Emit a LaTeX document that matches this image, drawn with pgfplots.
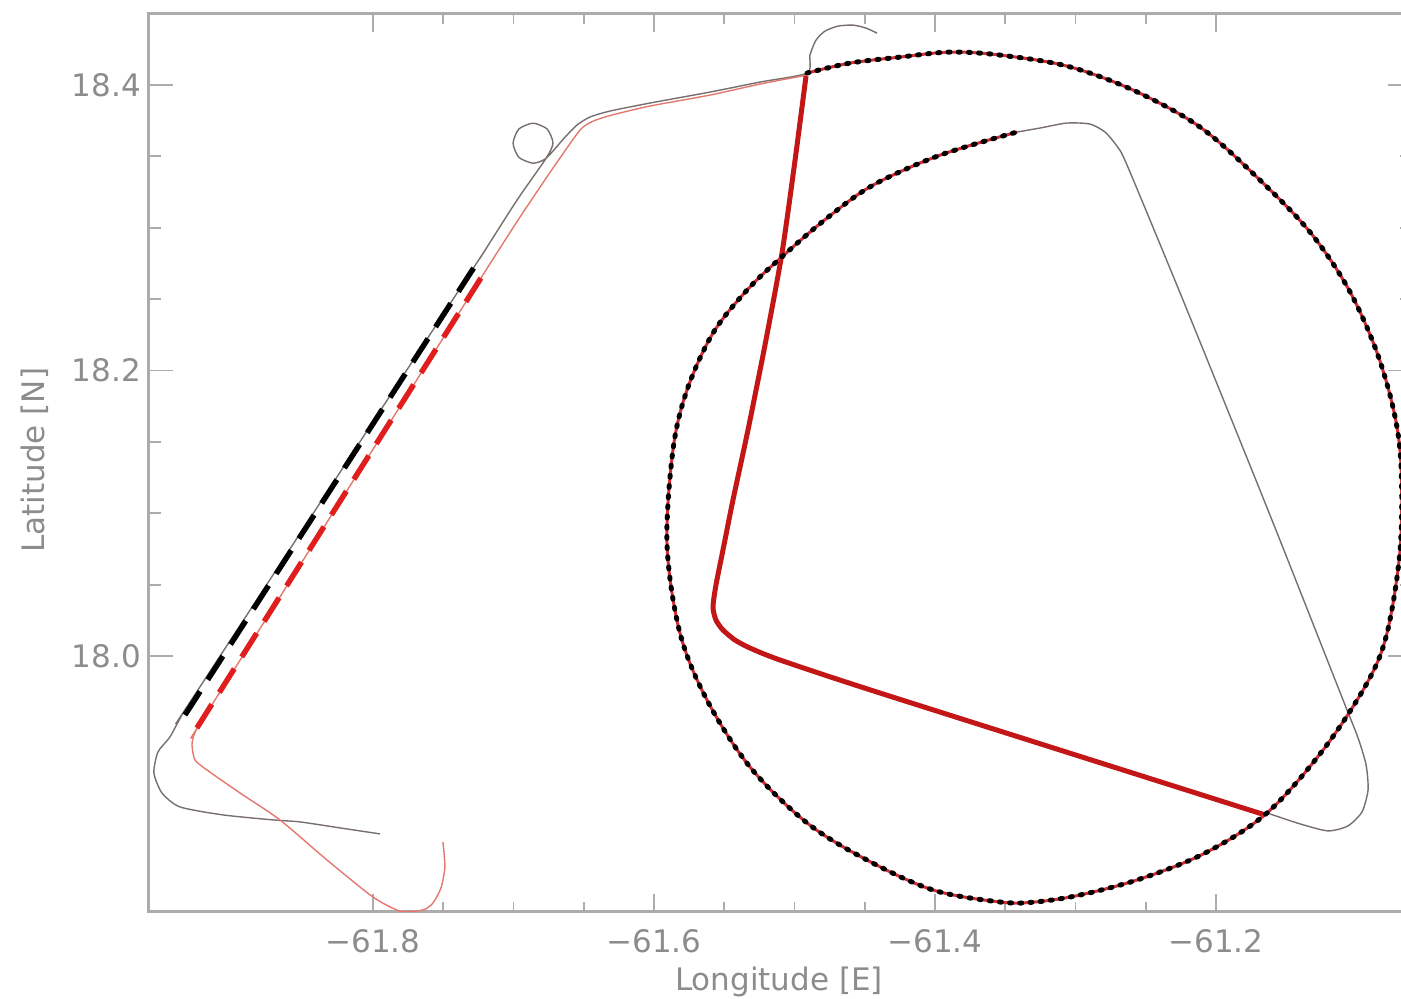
\documentclass[border=0pt]{standalone}
\usepackage{pgfplots}
\pgfplotsset{compat=1.18}
\usepackage{fontspec}
\setmainfont{DejaVu Sans}
\definecolor{axgray}{RGB}{172,172,172}
\definecolor{txtgray}{RGB}{140,140,140}
\definecolor{trkgray}{RGB}{120,110,110}
\definecolor{trkred}{RGB}{228,120,110}
\definecolor{thickred}{RGB}{195,22,22}
\definecolor{dashred}{RGB}{225,30,30}
\definecolor{circred}{RGB}{215,45,55}
\begin{document}
\begin{tikzpicture}
\useasboundingbox (0,0) rectangle (700.5pt,499.5pt);
\begin{axis}[
  at={(74pt,43.5pt)}, anchor=south west,
  scale only axis, width=632.5pt, height=449pt,
  xmin=-61.9601, xmax=-61.0598, ymin=17.8207, ymax=18.4497,
  xtick={-61.8,-61.6,-61.4,-61.2},
  xticklabels={−61.8,−61.6,−61.4,−61.2},
  ytick={18.0,18.2,18.4},
  yticklabels={18.0,18.2,18.4},
  minor x tick num=3, minor y tick num=3,
  axis line style={draw=axgray, line width=1.5pt},
  tick style={draw=axgray, line width=0.9pt},
  major tick length=12.5pt, minor tick length=6.5pt,
  xtick style={/pgfplots/major tick length=9pt, /pgfplots/minor tick length=5pt},
  tick label style={font=\fontsize{15.5}{18}\selectfont, text=txtgray},
  xticklabel style={yshift=-5pt},
  label style={font=\fontsize{15.5}{18}\selectfont, text=txtgray},
  xlabel={Longitude [E]}, ylabel={Latitude [N]},
  xlabel style={at={(axis description cs:0.4988,-0.078)}, anchor=center},
  ylabel style={at={(axis description cs:-0.0893,0.503)}, anchor=center},
]
% thin gray track, part A
\addplot[trkgray, line width=0.7pt, smooth, tension=0.4] coordinates {
(-61.7950,17.8754) (-61.8235,17.8796) (-61.8520,17.8838) (-61.8712,17.8852)
(-61.9068,17.8887) (-61.9374,17.8943) (-61.9502,17.9041) (-61.9559,17.9181)
(-61.9530,17.9328) (-61.9445,17.9433) (-61.9352,17.9601) (-61.9289,17.9697)
(-61.7302,18.2692) (-61.7238,18.2787)
(-61.6975,18.3193) (-61.6768,18.3486) (-61.6719,18.3592) (-61.6760,18.3691)
(-61.6861,18.3732) (-61.6962,18.3691) (-61.7003,18.3592) (-61.6962,18.3493)
(-61.6861,18.3452) (-61.6768,18.3486) (-61.6633,18.3634) (-61.6548,18.3719)
(-61.6456,18.3775) (-61.6313,18.3817) (-61.6029,18.3873) (-61.5601,18.3950)
(-61.5246,18.4020) (-61.4911,18.4083) (-61.4890,18.4209) (-61.4847,18.4314)
(-61.4783,18.4377) (-61.4690,18.4412) (-61.4584,18.4419) (-61.4491,18.4398)
(-61.4413,18.4363)};
% thin gray track, part B
\addplot[trkgray, line width=0.7pt, smooth, tension=0.4] coordinates {
(-61.3416,18.3670) (-61.3253,18.3698) (-61.3061,18.3733) (-61.2897,18.3726)
(-61.2790,18.3670) (-61.2705,18.3571) (-61.2633,18.3438) (-61.2235,18.2493)
(-61.1616,18.0987) (-61.1096,17.9692) (-61.0989,17.9426) (-61.0932,17.9237)
(-61.0918,17.9062) (-61.0961,17.8908) (-61.1061,17.8810) (-61.1203,17.8775)
(-61.1402,17.8824) (-61.1637,17.8901)};
% thin red track
\addplot[trkred, line width=0.7pt, smooth, tension=0.4] coordinates {
(-61.7502,17.8697) (-61.7488,17.8522) (-61.7516,17.8375) (-61.7573,17.8270)
(-61.7644,17.8221) (-61.7808,17.8214) (-61.8000,17.8312) (-61.8327,17.8571)
(-61.8662,17.8852) (-61.8947,17.9041) (-61.9182,17.9202) (-61.9267,17.9272)
(-61.9288,17.9377) (-61.9274,17.9447) (-61.9246,17.9503) (-61.9184,17.9599)
(-61.7257,18.2607) (-61.7196,18.2703)
(-61.6954,18.3074) (-61.6719,18.3417) (-61.6527,18.3683) (-61.6434,18.3746)
(-61.6299,18.3789) (-61.6029,18.3852) (-61.5601,18.3929) (-61.5246,18.4006)
(-61.4911,18.4069)};
% thick red leg
\addplot[thickred, line width=2.5pt, smooth, tension=0.4] coordinates {
(-61.4918,18.4062) (-61.4996,18.3473) (-61.5089,18.2822) (-61.5210,18.2178)
(-61.5331,18.1583) (-61.5438,18.1092) (-61.5509,18.0742) (-61.5559,18.0497)
(-61.5580,18.0343) (-61.5559,18.0252) (-61.5509,18.0182) (-61.5424,18.0112)
(-61.5317,18.0056) (-61.5103,17.9972) (-61.4392,17.9741) (-61.1651,17.8887)};
% circle: red line with black dots
\addplot[circred, line width=1.5pt, smooth, tension=0.55] coordinates {
(-61.4911,18.4083) (-61.4605,18.4153) (-61.4249,18.4195) (-61.3893,18.4230)
(-61.3537,18.4209) (-61.3061,18.4132) (-61.2591,18.3964) (-61.2114,18.3705)
(-61.1687,18.3333) (-61.1331,18.2969) (-61.1061,18.2577) (-61.0861,18.2143)
(-61.0733,18.1709) (-61.0683,18.1324) (-61.0690,18.0742) (-61.0783,18.0161)
(-61.0925,17.9811) (-61.1238,17.9342) (-61.1637,17.8901) (-61.2078,17.8620)
(-61.2541,17.8438) (-61.2968,17.8326) (-61.3288,17.8277) (-61.3537,17.8277)
(-61.4014,17.8361) (-61.4484,17.8571) (-61.4911,17.8831) (-61.5317,17.9223)
(-61.5623,17.9692) (-61.5815,18.0161) (-61.5907,18.0777) (-61.5865,18.1443)
(-61.5765,18.1863) (-61.5580,18.2262) (-61.5331,18.2570) (-61.5068,18.2815)
(-61.4769,18.3067) (-61.4441,18.3298) (-61.3964,18.3508) (-61.3416,18.3670)};
\addplot[black, line width=2.5pt, line cap=round, dash pattern=on 1pt off 4.1pt, smooth, tension=0.55] coordinates {
(-61.4911,18.4083) (-61.4605,18.4153) (-61.4249,18.4195) (-61.3893,18.4230)
(-61.3537,18.4209) (-61.3061,18.4132) (-61.2591,18.3964) (-61.2114,18.3705)
(-61.1687,18.3333) (-61.1331,18.2969) (-61.1061,18.2577) (-61.0861,18.2143)
(-61.0733,18.1709) (-61.0683,18.1324) (-61.0690,18.0742) (-61.0783,18.0161)
(-61.0925,17.9811) (-61.1238,17.9342) (-61.1637,17.8901) (-61.2078,17.8620)
(-61.2541,17.8438) (-61.2968,17.8326) (-61.3288,17.8277) (-61.3537,17.8277)
(-61.4014,17.8361) (-61.4484,17.8571) (-61.4911,17.8831) (-61.5317,17.9223)
(-61.5623,17.9692) (-61.5815,18.0161) (-61.5907,18.0777) (-61.5865,18.1443)
(-61.5765,18.1863) (-61.5580,18.2262) (-61.5331,18.2570) (-61.5068,18.2815)
(-61.4769,18.3067) (-61.4441,18.3298) (-61.3964,18.3508) (-61.3416,18.3670)};
% dashed legs
\addplot[black, line width=2.7pt, dash pattern=on 14pt off 7pt] coordinates {
(-61.9338,17.9587) (-61.7238,18.2787)};
\addplot[dashred, line width=2.7pt, dash pattern=on 14pt off 7pt] coordinates {
(-61.9253,17.9496) (-61.7196,18.2703)};
\end{axis}
\end{tikzpicture}
\end{document}
